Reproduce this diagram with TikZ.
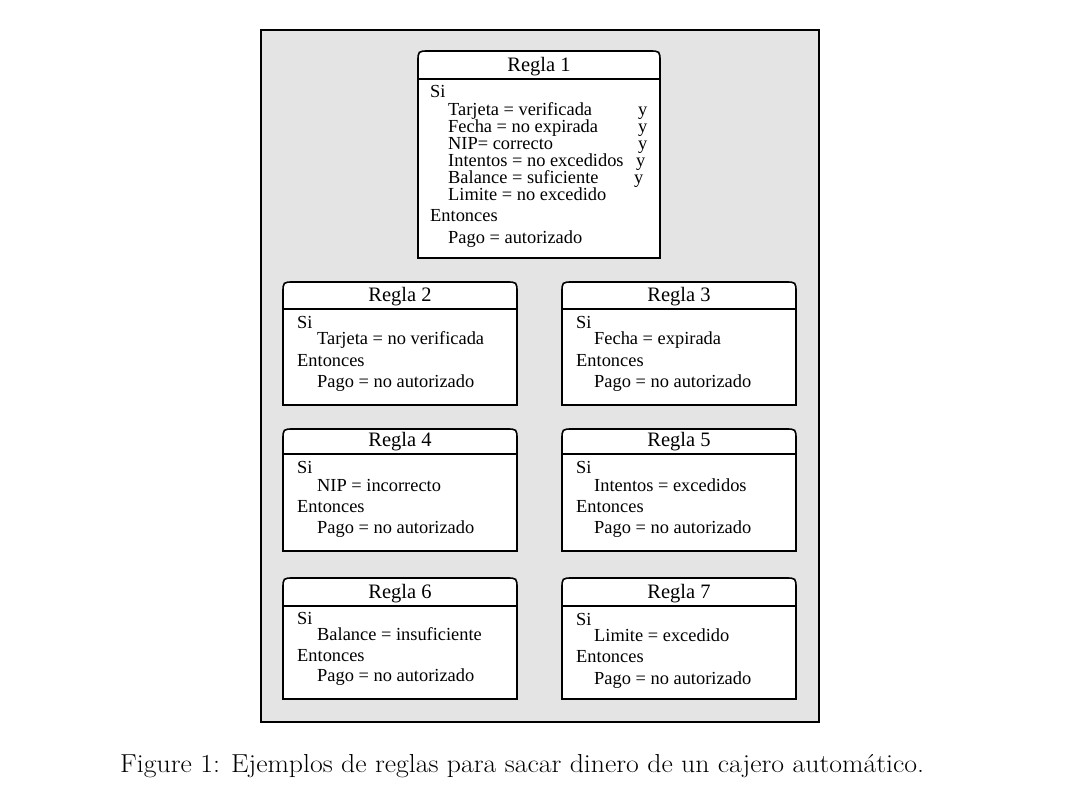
\documentclass[tikz,border=0pt]{standalone}
\usepackage{fontspec}
\setmainfont{Latin Modern Roman}
\newfontfamily\bodyfont{Liberation Serif}
\definecolor{panelgray}{RGB}{228,228,228}
\tikzset{
  boxline/.style={line width=1.6pt, draw=black},
  titletext/.style={font=\bodyfont\fontsize{20.5}{22}\selectfont, inner sep=0pt, anchor=base},
  txt/.style={font=\bodyfont\fontsize{18.4}{20}\selectfont, inner sep=0pt, anchor=base west},
}
\newcommand\rulebox[7]{%
  \draw[boxline, fill=white] (#2,#5) -- (#2,#3+11) .. controls (#2,#3) .. (#2+11,#3) -- (#4-11,#3) .. controls (#4,#3) .. (#4,#3+11) -- (#4,#5) -- cycle;
  \draw[boxline] (#2,#6) -- (#4,#6);
  \node[titletext] (#1) at ({(#2+#4)/2},{#6-8}) {#7};
}
\begin{document}
\begin{tikzpicture}[x=1pt,y=-1pt]
\useasboundingbox (0,0) rectangle (1066,800);
\draw[line width=1.6pt, fill=panelgray] (261,30) rectangle (819,722);
% Regla 1
\rulebox{t1}{418}{51}{660}{258}{79}{Regla 1}
\node[txt] (a1) at (430,98) {Si};
\node[txt] (a2) at (448,115) {Tarjeta = verificada};
\node[txt] (a3) at (448,132) {Fecha = no expirada};
\node[txt] (a4) at (448,149) {NIP= correcto};
\node[txt] (a5) at (448,166) {Intentos = no excedidos};
\node[txt] (a6) at (448,183) {Balance = suficiente};
\node[txt] (a7) at (448,200) {Limite = no excedido};
\node[txt] (ay1) at (638,115) {y};
\node[txt] (ay2) at (638,132) {y};
\node[txt] (ay3) at (638,149) {y};
\node[txt] (ay4) at (636,166) {y};
\node[txt] (ay5) at (634,183) {y};
\node[txt] (a8) at (430,221) {Entonces};
\node[txt] (a9) at (448,243) {Pago = autorizado};
% Regla 2
\rulebox{t2}{283}{282}{517}{405}{309}{Regla 2}
\node[txt] (b1) at (297,328) {Si};
\node[txt] (b2) at (317,344) {Tarjeta = no verificada};
\node[txt] (b3) at (297,366) {Entonces};
\node[txt] (b4) at (317,387) {Pago = no autorizado};
% Regla 3
\rulebox{t3}{562}{282}{796}{405}{309}{Regla 3}
\node[txt] (c1) at (576,328) {Si};
\node[txt] (c2) at (594,344) {Fecha = expirada};
\node[txt] (c3) at (576,366) {Entonces};
\node[txt] (c4) at (594,387) {Pago = no autorizado};
% Regla 4
\rulebox{t4}{283}{429}{517}{551}{454}{Regla 4}
\node[txt] (d1) at (297,473) {Si};
\node[txt] (d2) at (317,491) {NIP = incorrecto};
\node[txt] (d3) at (297,512) {Entonces};
\node[txt] (d4) at (317,533) {Pago = no autorizado};
% Regla 5
\rulebox{t5}{562}{429}{796}{551}{454}{Regla 5}
\node[txt] (e1) at (576,473) {Si};
\node[txt] (e2) at (594,491) {Intentos = excedidos};
\node[txt] (e3) at (576,512) {Entonces};
\node[txt] (e4) at (594,533) {Pago = no autorizado};
% Regla 6
\rulebox{t6}{283}{578}{517}{699}{606}{Regla 6}
\node[txt] (f1) at (297,624) {Si};
\node[txt] (f2) at (317,640) {Balance = insuficiente};
\node[txt] (f3) at (297,661) {Entonces};
\node[txt] (f4) at (317,681) {Pago = no autorizado};
% Regla 7
\rulebox{t7}{562}{578}{796}{699}{606}{Regla 7}
\node[txt] (g1) at (576,625) {Si};
\node[txt] (g2) at (594,641) {Limite = excedido};
\node[txt] (g3) at (576,662) {Entonces};
\node[txt] (g4) at (594,684) {Pago = no autorizado};
% caption
\node[font=\fontsize{26}{30}\selectfont, inner sep=0pt, anchor=base west, xscale=1.068] (cap) at (120,772) {Figure 1: Ejemplos de reglas para sacar dinero de un cajero automático.};
\end{tikzpicture}
\end{document}
